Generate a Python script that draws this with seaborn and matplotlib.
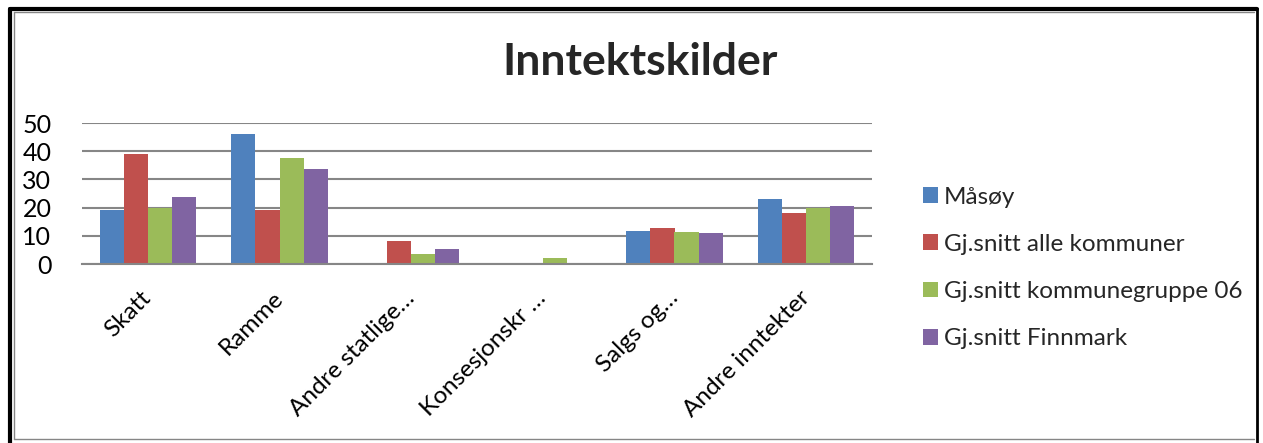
import matplotlib
matplotlib.use("Agg")
import matplotlib.pyplot as plt
import seaborn as sns
import pandas as pd
from matplotlib.lines import Line2D

categories = ["Skatt", "Ramme", "Andre statlige…", "Konsesjonskr …", "Salgs og…", "Andre inntekter"]
series = ["Måsøy", "Gj.snitt alle kommuner", "Gj.snitt kommunegruppe 06", "Gj.snitt Finnmark"]
masoy = [19, 46, 0, 0, 11.6, 22.9]
alle = [38.9, 19.1, 8.0, 0.2, 12.8, 18.1]
gruppe06 = [20, 37.5, 3.5, 2.1, 11.3, 19.9]
finnmark = [23.8, 33.8, 5.2, 0.3, 10.9, 20.5]
colors = ["#4F81BD", "#C0504D", "#9BBB59", "#8064A2"]
yticks = [0, 10, 20, 30, 40, 50]

rows = []
for s, vals in zip(series, [masoy, alle, gruppe06, finnmark]):
    for c, v in zip(categories, vals):
        rows.append({"kategori": c, "serie": s, "verdi": v})
df = pd.DataFrame(rows)

sns.set_style("white")
plt.rcParams["font.family"] = ["Lato", "DejaVu Sans"]

fig = plt.figure(figsize=(12.63, 4.43), dpi=100)
ax = fig.add_axes([82 / 1263, 1 - 264 / 443, 790 / 1263, 141 / 443])
sns.barplot(data=df, x="kategori", y="verdi", hue="serie", order=categories,
            hue_order=series, palette=colors, width=0.73, gap=0, saturation=1,
            edgecolor="none", linewidth=0, ax=ax, legend=True)
ax.set_ylim(0, 50)
ax.set_yticks(yticks)
ax.set_xlim(-0.5, len(categories) - 0.5)
ax.set_xlabel("")
ax.set_ylabel("")
ax.grid(axis="y", color="#868686", linewidth=1.5)
ax.set_axisbelow(True)
for sp in ["left", "right", "top"]:
    ax.spines[sp].set_visible(False)
ax.spines["bottom"].set_color("#868686")
ax.spines["bottom"].set_linewidth(1.5)
ax.tick_params(axis="both", length=0, colors="black")
ax.tick_params(axis="y", pad=22, labelsize=18)
ax.tick_params(axis="x", pad=22, labelsize=17.5)
for lab in ax.get_xticklabels():
    lab.set_rotation(45)
    lab.set_ha("right")
    lab.set_va("center")
    lab.set_rotation_mode("anchor")

handles, labels = ax.get_legend_handles_labels()
ax.get_legend().remove()
fig.legend(handles, labels, loc="center left", bbox_to_anchor=(913 / 1263, 1 - 268 / 443),
           frameon=False, fontsize=17.5, handlelength=0.62, handleheight=0.62,
           handletextpad=0.25, labelspacing=1.08, borderaxespad=0)

fig.text(640 / 1263, 1 - 62 / 443, "Inntektskilder", ha="center", va="center",
         fontsize=32, fontweight="bold")

# page frame
fig.add_artist(Line2D([10 / 1263, 10 / 1263], [0, 1 - 9 / 443], transform=fig.transFigure, color="black", lw=3))
fig.add_artist(Line2D([10 / 1263, 1257 / 1263], [1 - 9 / 443, 1 - 9 / 443], transform=fig.transFigure, color="black", lw=3))
fig.add_artist(Line2D([1257 / 1263, 1257 / 1263], [0, 1 - 9 / 443], transform=fig.transFigure, color="black", lw=2))
fig.add_artist(Line2D([14 / 1263, 14 / 1263], [4 / 443, 1 - 12 / 443], transform=fig.transFigure, color="#868686", lw=1))
fig.add_artist(Line2D([14 / 1263, 1254 / 1263], [1 - 12 / 443, 1 - 12 / 443], transform=fig.transFigure, color="#868686", lw=1))
fig.add_artist(Line2D([14 / 1263, 1254 / 1263], [4 / 443, 4 / 443], transform=fig.transFigure, color="#868686", lw=1))

fig.savefig("out.png", dpi=100)
